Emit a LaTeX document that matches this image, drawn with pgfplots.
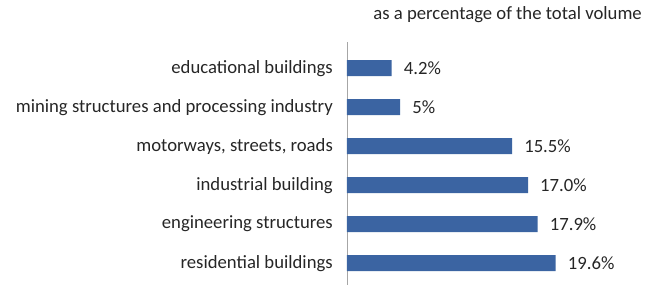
\documentclass[border=0pt]{standalone}
\usepackage{fontspec}
\setmainfont{Carlito}
\usepackage{pgfplots}
\pgfplotsset{compat=1.18}
\definecolor{barblue}{HTML}{3B64A2}
\definecolor{axgray}{HTML}{A6A6A6}
\definecolor{txt}{HTML}{262626}
\begin{document}
\begin{tikzpicture}[font=\fontsize{18.7bp}{22bp}\selectfont]
\useasboundingbox (-347bp,-1bp) rectangle (304bp,285bp);
\begin{axis}[
  at={(0,0)}, anchor=south west,
  scale only axis,
  x=10.65bp, y=39bp, y dir=reverse,
  xmin=0, xmax=25, ymin=-0.67, ymax=5.56,
  hide x axis,
  axis y line*=left,
  y axis line style={draw=axgray, line width=0.8bp},
  ytick={0,1,2,3,4,5},
  yticklabels={educational buildings, mining structures and processing industry, {motorways, streets, roads}, industrial building, engineering structures, residential buildings},
  ytick style={draw=none},
  major tick length=0pt,
  yticklabel style={anchor=east, inner sep=0pt, xshift=-14bp, text=txt},
  xbar, bar width=16bp,
  nodes near coords,
  point meta=explicit symbolic,
  every node near coord/.append style={anchor=west, inner sep=0pt, xshift=12bp, text=txt},
  clip=false,
]
\addplot[xbar, fill=barblue, draw=none] coordinates {
  (4.2,0) [4.2\%]
  (5.0,1) [5\%]
  (15.5,2) [15.5\%]
  (17.0,3) [17.0\%]
  (17.9,4) [17.9\%]
  (19.6,5) [19.6\%]
};
\end{axis}
\node[anchor=east, inner sep=0pt, text=txt] at (295bp,270bp) {as a percentage of the total volume};
\end{tikzpicture}
\end{document}
